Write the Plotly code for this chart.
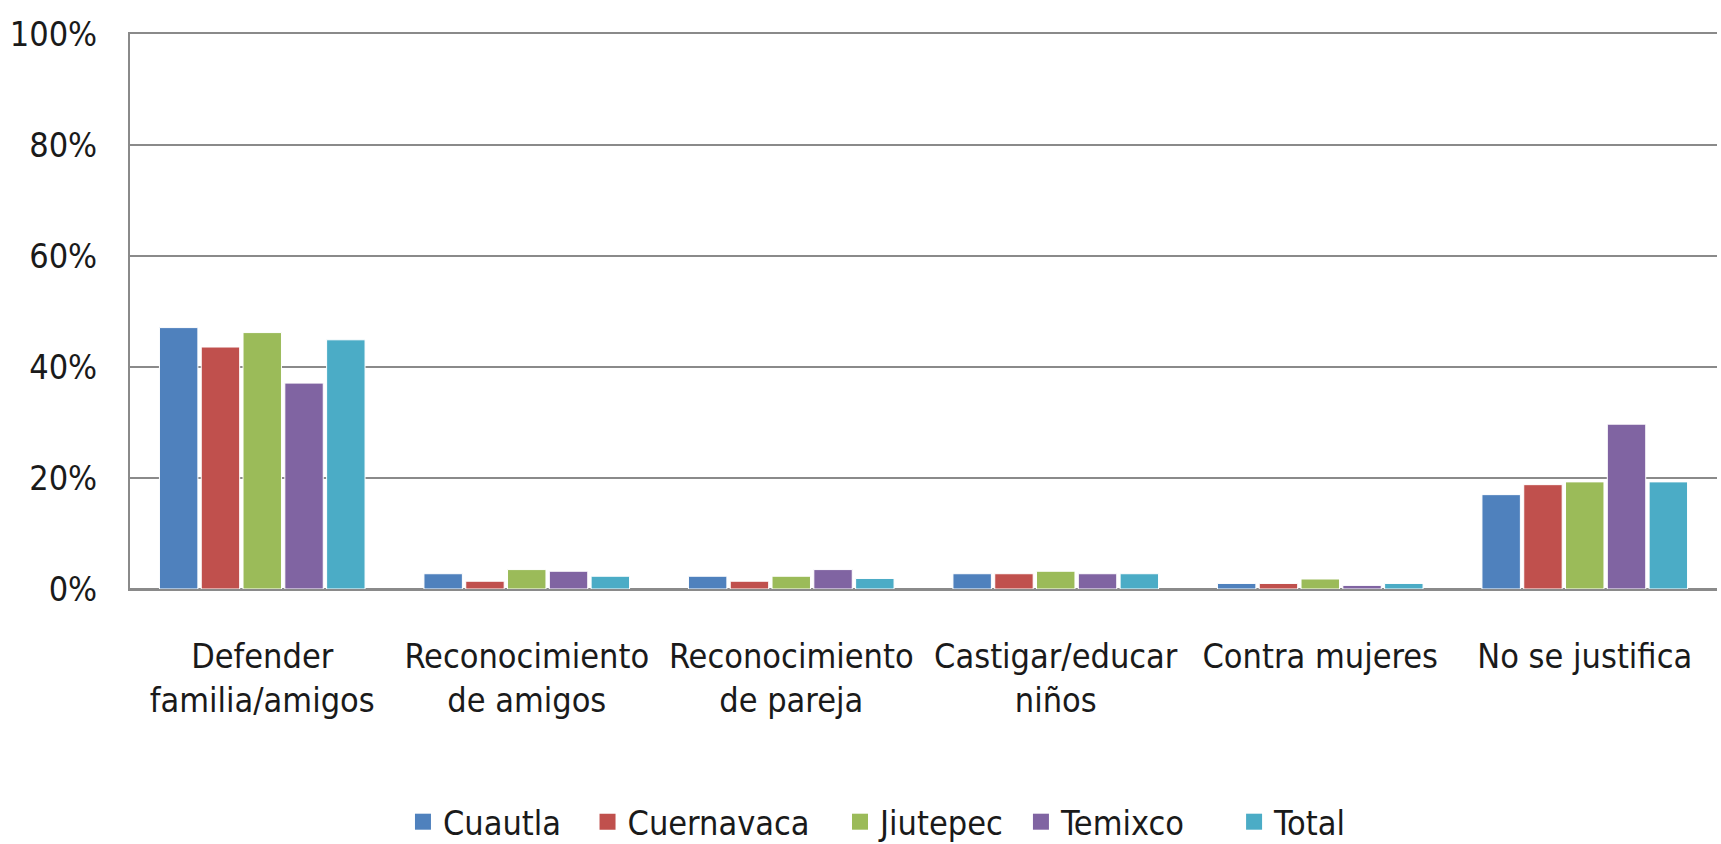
import plotly.graph_objects as go

# Categories (x axis) and share of responses per municipality
categories = [
    "Defender<br>familia/amigos",
    "Reconocimiento<br>de amigos",
    "Reconocimiento<br>de pareja",
    "Castigar/educar<br>niños",
    "Contra mujeres",
    "No se justifica",
]

cuautla = [0.471, 0.0275, 0.023, 0.0275, 0.010, 0.170]
cuernavaca = [0.436, 0.014, 0.014, 0.0275, 0.010, 0.188]
jiutepec = [0.462, 0.035, 0.023, 0.032, 0.018, 0.193]
temixco = [0.371, 0.032, 0.035, 0.0275, 0.0065, 0.297]
total = [0.449, 0.023, 0.019, 0.0275, 0.010, 0.193]

series_names = ["Cuautla", "Cuernavaca", "Jiutepec", "Temixco", "Total"]
series_values = [cuautla, cuernavaca, jiutepec, temixco, total]
colors = ["#4F81BD", "#C0504D", "#9BBB59", "#8064A2", "#4BACC6"]

y_ticks = [0, 0.2, 0.4, 0.6, 0.8, 1.0]

FONT = "DejaVu Sans Condensed, Liberation Sans Narrow, sans-serif"
GRID = "#8a8a8a"

# one legend box per series, laid out along the bottom
legend_x = [0.172, 0.2883, 0.4474, 0.5614, 0.6957]
legend_keys = ["legend", "legend2", "legend3", "legend4", "legend5"]

fig = go.Figure()
for name, vals, col, key in zip(series_names, series_values, colors, legend_keys):
    fig.add_trace(go.Bar(
        name=name,
        x=categories,
        y=vals,
        marker=dict(color=col, line=dict(color="white", width=1)),
        showlegend=False,
    ))
    # legend entry with a larger square swatch
    fig.add_trace(go.Scatter(
        name=name,
        x=[None],
        y=[None],
        mode="markers",
        marker=dict(symbol="square", size=20, color=col),
        showlegend=True,
        legend=key,
        hoverinfo="skip",
    ))

legend_common = dict(
    orientation="h",
    y=-0.42, yanchor="middle",
    xanchor="left",
    font=dict(size=34),
    itemwidth=30,
    bgcolor="rgba(0,0,0,0)",
)
legends = {key: dict(legend_common, x=lx) for key, lx in zip(legend_keys, legend_x)}

fig.update_layout(
    width=1721,
    height=844,
    barmode="group",
    bargap=0.21,
    bargroupgap=0.08,
    plot_bgcolor="white",
    paper_bgcolor="white",
    margin=dict(l=130, r=4, t=34, b=255, autoexpand=False),
    font=dict(family=FONT, size=34, color="#1a1a1a"),
    xaxis=dict(
        showgrid=False,
        showline=True,
        mirror=True,
        linecolor=GRID,
        linewidth=2,
        ticks="",
        tickangle=0,
        automargin=False,
        tickfont=dict(size=34),
        ticklabelstandoff=36,
    ),
    yaxis=dict(
        range=[0, 1],
        tickvals=y_ticks,
        tickformat=".0%",
        showgrid=True,
        gridcolor=GRID,
        gridwidth=2,
        showline=True,
        linecolor=GRID,
        linewidth=2,
        zeroline=True,
        zerolinecolor=GRID,
        zerolinewidth=2,
        ticks="",
        automargin=False,
        tickfont=dict(size=34),
        ticklabelstandoff=24,
    ),
    **legends,
)

fig.write_html("out.html")
